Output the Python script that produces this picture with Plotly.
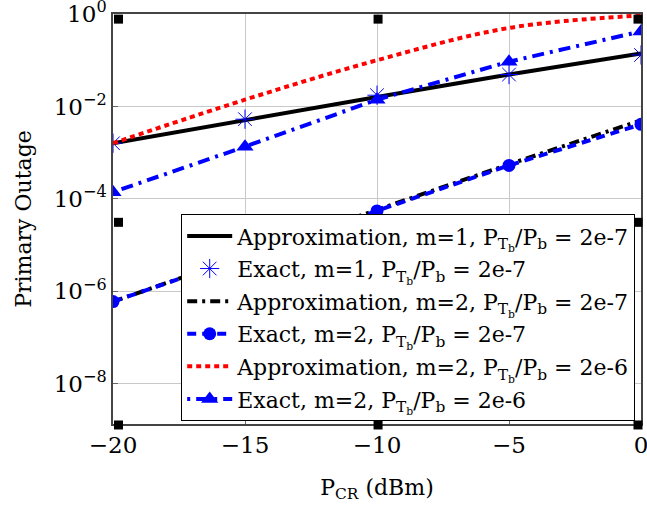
import plotly.graph_objects as go

x_dbm = [-20, -15, -10, -5, 0]

approx_m1_2e7 = [1.6e-3, 5.1e-3, 1.6e-2, 4.9e-2, 0.14]
exact_m1_2e7 = [1.6e-3, 5.3e-3, 1.75e-2, 4.9e-2, 0.13]
approx_m2_2e7 = [6.0e-7, 6.0e-6, 5.8e-5, 5.6e-4, 5.0e-3]
exact_m2_2e7 = [6.0e-7, 5.8e-6, 5.5e-5, 5.3e-4, 4.1e-3]
approx_m2_2e6 = [1.6e-3, 1.4e-2, 0.10, 0.5, 0.93]
exact_m2_2e6 = [1.4e-4, 1.35e-3, 1.4e-2, 0.093, 0.42]

x_tickvals = [-20, -15, -10, -5, 0]
x_ticktext = ["\u221220", "\u221215", "\u221210", "\u22125", "0"]
y_tickvals = [1e0, 1e-2, 1e-4, 1e-6, 1e-8]
y_ticktext = ["10<sup>0</sup>", "10<sup>\u22122</sup>", "10<sup>\u22124</sup>",
              "10<sup>\u22126</sup>", "10<sup>\u22128</sup>"]

ratio = "P<sub>T<sub>b</sub></sub>/P<sub>b</sub>"
names = [
    f"Approximation, m=1, {ratio} = 2e-7",
    f"Exact, m=1, {ratio} = 2e-7",
    f"Approximation, m=2, {ratio} = 2e-7",
    f"Exact, m=2, {ratio} = 2e-7",
    f"Approximation, m=2, {ratio} = 2e-6",
    f"Exact, m=2, {ratio} = 2e-6",
]

BLUE = "#0000ff"
fig = go.Figure()
fig.add_trace(go.Scatter(x=x_dbm, y=approx_m1_2e7, name=names[0], mode="lines",
                         legendgroup="g1",
                         line=dict(color="black", width=4)))
fig.add_trace(go.Scatter(x=x_dbm, y=exact_m1_2e7, name=names[1], mode="markers",
                         legendgroup="g2",
                         marker=dict(symbol="asterisk-open", size=16, color=BLUE,
                                     line=dict(color=BLUE, width=1))))
fig.add_trace(go.Scatter(x=x_dbm, y=approx_m2_2e7, name=names[2], mode="lines",
                         legendgroup="g3",
                         line=dict(color="black", width=4, dash="10px,5px,3px,5px")))
fig.add_trace(go.Scatter(x=x_dbm, y=exact_m2_2e7, name=names[3], mode="lines+markers",
                         legendgroup="g4",
                         line=dict(color=BLUE, width=4, dash="9px,6px"),
                         marker=dict(symbol="circle", size=13, color=BLUE,
                                     line=dict(color=BLUE, width=0))))
fig.add_trace(go.Scatter(x=x_dbm, y=approx_m2_2e6, name=names[4], mode="lines",
                         legendgroup="g5",
                         line=dict(color="#ff0000", width=4, dash="5px,4px", shape="spline")))
fig.add_trace(go.Scatter(x=x_dbm, y=exact_m2_2e6, name=names[5], mode="lines+markers",
                         legendgroup="g6",
                         line=dict(color=BLUE, width=4, dash="3px,6px,12px,6px"),
                         marker=dict(symbol="triangle-up", size=15, color=BLUE)))

font_serif = "DejaVu Serif"

shapes = []
for xa in [0.0104, 0.502, 0.9943]:
    for ya in [0.9875, 0.4919, -0.0024]:
        if xa == 0.502 and ya == 0.4919:
            continue
        shapes.append(dict(type="rect", xref="paper", yref="paper",
                           xsizemode="pixel", ysizemode="pixel",
                           xanchor=xa, yanchor=ya, x0=-4.5, x1=4.5, y0=-4.5, y1=4.5,
                           fillcolor="black", line=dict(width=0), layer="above"))

fig.update_layout(
    width=647, height=506,
    margin=dict(l=113, r=6, t=14, b=82, autoexpand=False),
    paper_bgcolor="white", plot_bgcolor="white",
    font=dict(family=font_serif, size=22, color="black"),
    showlegend=True,
    legend=dict(x=0.989, y=0.007, xanchor="right", yanchor="bottom",
                bgcolor="white", bordercolor="black", borderwidth=1,
                font=dict(family=font_serif, size=22), itemwidth=45,
                tracegroupgap=1, traceorder="grouped"),
    shapes=shapes,
)
fig.update_xaxes(range=[-20, 0], tickvals=x_tickvals, ticktext=x_ticktext,
                 showgrid=True, gridcolor="#c8c8c8", gridwidth=1,
                 showline=True, linecolor="#444444", linewidth=1.5, mirror=True,
                 ticks="inside", ticklen=5, tickcolor="#666666", zeroline=False,
                 tickfont=dict(family=font_serif, size=23), automargin=False,
                 ticklabeloverflow="allow",
                 title=dict(text="P<sub>CR</sub> (dBm)", font=dict(family=font_serif, size=22), standoff=22))
fig.update_yaxes(type="log", range=[-8.87, 0], tickvals=y_tickvals, ticktext=y_ticktext,
                 showgrid=True, gridcolor="#c8c8c8", gridwidth=1,
                 showline=True, linecolor="#444444", linewidth=1.5, mirror=True,
                 ticks="inside", ticklen=5, tickcolor="#666666", zeroline=False,
                 tickfont=dict(family=font_serif, size=23), automargin=False,
                 ticklabeloverflow="allow",
                 title=dict(text="Primary Outage", font=dict(family=font_serif, size=22), standoff=16))

fig.write_html("out.html", config={"displayModeBar": False},
               post_script="document.body.style.margin='0';document.body.style.overflow='hidden';")
